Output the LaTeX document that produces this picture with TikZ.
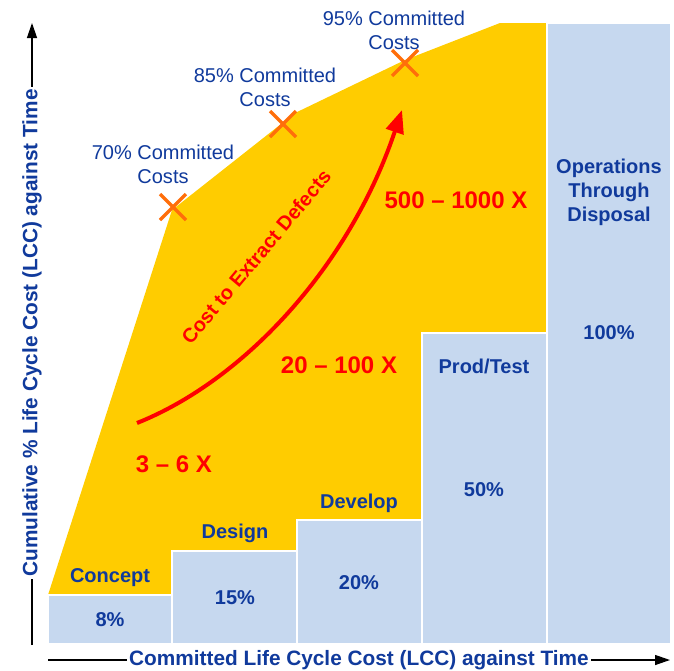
\documentclass[tikz,border=0pt]{standalone}
\usepackage{fontspec}
\setmainfont{Liberation Sans}
\usetikzlibrary{arrows.meta}
\definecolor{phaseyellow}{RGB}{255,204,0}
\definecolor{barblue}{RGB}{198,216,239}
\definecolor{txtblue}{RGB}{16,58,156}
\definecolor{xorange}{RGB}{255,110,10}
\definecolor{costred}{RGB}{255,0,0}
\tikzset{
  bar/.style={fill=barblue,draw=white,line width=1.5pt},
  phase/.style={text=txtblue,font=\fontsize{20}{24}\selectfont\bfseries,align=center,inner sep=0pt},
  commit/.style={text=txtblue,font=\fontsize{20}{24}\selectfont,align=center,inner sep=0pt},
  factor/.style={text=costred,font=\fontsize{24}{28}\selectfont\bfseries,inner sep=0pt},
  xmark/.style={draw=xorange,line width=3.3pt},
  axis/.style={draw=black,line width=1.3pt,-{Triangle[length=15pt,width=10pt]}},
  axislabel/.style={fill=white,text=txtblue,font=\fontsize{20.8}{24}\selectfont\bfseries,inner xsep=2pt,inner ysep=0pt}
}
\begin{document}
\begin{tikzpicture}[x=1pt,y=-1pt]
\useasboundingbox (0,0) rectangle (674,670);
% committed-cost area
\fill[phaseyellow] (48,595) -- (172,210) -- (295,113) -- (405,60) -- (500,23) -- (547,23)
  -- (547,333) -- (422,333) -- (422,520) -- (297,520) -- (297,551) -- (172,551) -- (172,595) -- cycle;
% bars
\draw[bar] (48,595) rectangle (172,644);
\draw[bar] (172,551) rectangle (297,644);
\draw[bar] (297,520) rectangle (422,644);
\draw[bar] (422,333) rectangle (547,644);
\draw[bar] (547,23) rectangle (671,644);
% X marks
\foreach \cx/\cy [count=\i] in {173/207, 283/124, 405/63}{
  \coordinate (x\i) at (\cx,\cy);
  \draw[xmark] ([shift={(-13,-13)}]x\i) -- ([shift={(13,13)}]x\i);
  \draw[xmark] ([shift={(-13,13)}]x\i) -- ([shift={(13,-13)}]x\i);
}
% committed labels
\node[commit] (c70) at (163,164) {70\% Committed\\Costs};
\node[commit] (c85) at (265,87) {85\% Committed\\Costs};
\node[commit] (c95) at (394,30) {95\% Committed\\Costs};
% phase labels
\node[phase] (concept) at (110,578) {Concept};
\node[phase] (p8) at (110,620) {8\%};
\node[phase] (design) at (235,533) {Design};
\node[phase] (p15) at (235,598) {15\%};
\node[phase] (develop) at (359,503) {Develop};
\node[phase] (p20) at (359,583) {20\%};
\node[phase] (prod) at (484,366) {Prod/Test};
\node[phase] (p50) at (484,490) {50\%};
\node[phase] (ops) at (609,192) {Operations\\Through\\Disposal};
\node[phase] (p100) at (609,333) {100\%};
% cost factors
\node[factor] (f3) at (174,464) {3 -- 6 X};
\node[factor] (f20) at (339,365) {20 -- 100 X};
\node[factor] (f500) at (456,200) {500 -- 1000 X};
% curved arrow
\coordinate (cs) at (137,423);
\coordinate (ce) at (402,110);
\draw[costred,line width=4pt,-{Triangle[length=23pt,width=18pt]}] (cs) .. controls (245,380) and (350,265) .. (ce);
\node[text=costred,font=\fontsize{20}{24}\selectfont\bfseries,rotate=50,inner sep=0pt] (extract) at (256,257) {Cost to Extract Defects};
% axes
\coordinate (yb) at (32,645);
\coordinate (yt) at (32,23);
\coordinate (xl) at (48,660);
\coordinate (xr) at (670,660);
\draw[axis] (yb) -- (yt);
\draw[axis] (xl) -- (xr);
\node[axislabel,rotate=90] (ylab) at (32,333) {Cumulative \% Life Cycle Cost (LCC) against Time};
\node[axislabel] (xlab) at (359,660) {Committed Life Cycle Cost (LCC) against Time};
\end{tikzpicture}
\end{document}
